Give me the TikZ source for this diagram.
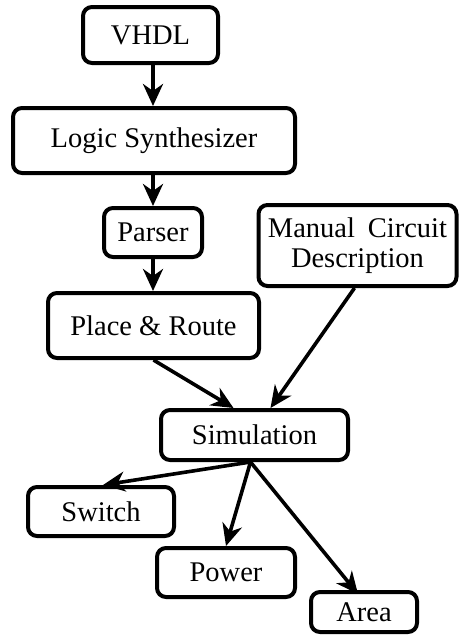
\documentclass[tikz,border=0pt]{standalone}
\usepackage{fontspec}
\setmainfont{Liberation Serif}
\usetikzlibrary{arrows.meta}
\begin{document}
\begin{tikzpicture}[x=1pt,y=-1pt,
  box/.style={draw, line width=4pt, rounded corners=9pt, inner sep=0pt,
    align=center, font=\fontsize{28.5}{29.5}\selectfont},
  flow/.style={line width=3.6pt, -{Stealth[length=22pt,width=20pt,inset=7pt]}}]
\useasboundingbox (0,0) rectangle (459,635);
% boxes: centre, width, height in px units
\node[box, minimum width=135pt, minimum height=56pt] (vhdl) at (150.5,35) {VHDL};
\node[box, minimum width=282pt, minimum height=65pt] (logic) at (154,140.5) {Logic Synthesizer};
\node[box, minimum width=98pt,  minimum height=49pt] (parser) at (153,232.5) {Parser};
\node[box, minimum width=198pt, minimum height=81pt] (manual) at (357.5,245.5) {Manual\hspace{0.45em}Circuit\\Description};
\node[box, minimum width=211pt, minimum height=65pt] (place) at (153.5,325.5) {Place \& Route};
\node[box, minimum width=187pt, minimum height=50pt] (sim) at (254.5,435) {Simulation};
\node[box, minimum width=146pt, minimum height=49pt] (switch) at (101,511.5) {Switch};
\node[box, minimum width=138pt, minimum height=49pt] (power) at (226,572.5) {Power};
\node[box, minimum width=106pt, minimum height=40pt] (area) at (364,612) {Area};
% connectors
\draw[flow] ([xshift=2.5pt]vhdl.south) -- ([xshift=-1pt]logic.north);
\draw[flow] ([xshift=-1pt]logic.south) -- (parser.north);
\draw[flow] (parser.south) -- ([xshift=-0.5pt]place.north);
\draw[flow] (place.south) -- ([xshift=-21pt]sim.north);
\draw[flow] ([xshift=-3pt]manual.south) -- ([xshift=16pt]sim.north);
\draw[flow] ([xshift=-4pt]sim.south) -- ([xshift=2pt]switch.north);
\draw[flow] ([xshift=-4pt]sim.south) -- (power.north);
\draw[flow] ([xshift=-4pt]sim.south) -- ([xshift=-6pt,yshift=-4pt]area.north);
\end{tikzpicture}
\end{document}
